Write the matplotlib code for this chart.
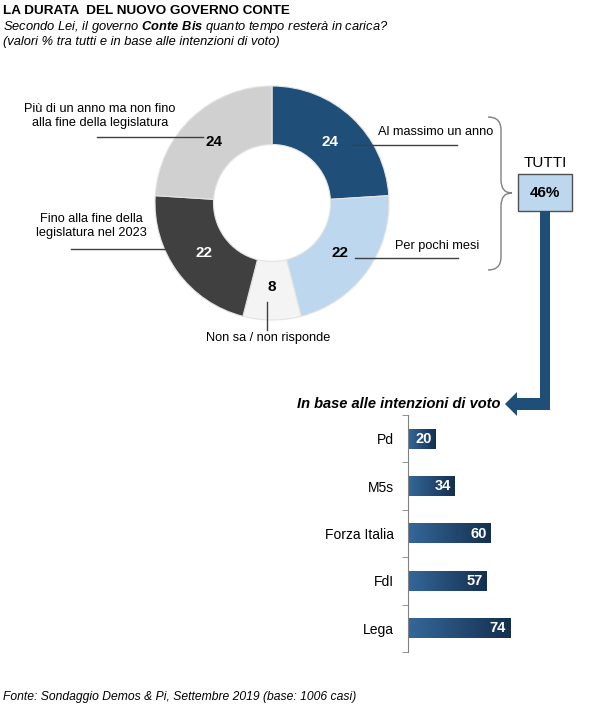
import matplotlib.pyplot as plt
import numpy as np
from matplotlib.path import Path
from matplotlib.patches import PathPatch, Polygon, Rectangle
from matplotlib.colors import LinearSegmentedColormap

plt.rcParams['font.family'] = ['Liberation Sans', 'DejaVu Sans']
plt.rcParams['mathtext.fontset'] = 'custom'
plt.rcParams['mathtext.bf'] = 'Liberation Sans:italic:bold'
plt.rcParams['mathtext.rm'] = 'Liberation Sans:italic'

# donut data (clockwise from top)
risposte = ["Al massimo un anno", "Per pochi mesi", "Non sa / non risponde",
            "Fino alla fine della\nlegislatura nel 2023",
            "Più di un anno ma non fino\nalla fine della legislatura"]
valori = [24, 22, 8, 22, 24]
colori = ["#1F4E79", "#BDD7EE", "#F4F4F4", "#404040", "#D0D0D0"]
col_testo = ["white", "black", "black", "white", "black"]
tutti = 46

# bar data
partiti = ["Pd", "M5s", "Forza Italia", "FdI", "Lega"]
perc = [20, 34, 60, 57, 74]

W, H = 600, 710
fig = plt.figure(figsize=(W / 100, H / 100), dpi=100)
fig.patch.set_facecolor("white")


def box(l, t, r, b):
    return [l / W, 1 - b / H, (r - l) / W, (b - t) / H]


# --- donut
ax = fig.add_axes(box(155, 86, 389, 320))
wedges, _ = ax.pie(valori, colors=colori, startangle=90, counterclock=False,
                   radius=1, wedgeprops=dict(width=0.5, edgecolor="#E4E4E4", linewidth=0.8))
ax.set_xlim(-1, 1)
ax.set_ylim(-1, 1)
ax.set_aspect("equal")

# --- bars
bx = fig.add_axes(box(408, 415, 570, 652))
y = np.arange(len(partiti))
bars = bx.barh(y, perc, height=0.42, color="none")
cmap = LinearSegmentedColormap.from_list("g", ["#35679A", "#14304F"])
grad = np.linspace(0, 1, 100).reshape(1, -1)
for b, v in zip(bars, perc):
    x0, y0 = b.get_x(), b.get_y()
    bx.imshow(grad, cmap=cmap, aspect="auto", extent=(x0, x0 + v, y0 + b.get_height(), y0), zorder=2)
    bx.text(v - 3, b.get_y() + b.get_height() / 2, str(v), color="white", fontsize=10.5,
            fontweight="bold", ha="right", va="center", zorder=3)
bx.set_xlim(0, 162 / 1.38)
bx.set_ylim(len(partiti) - 0.5, -0.5)
bx.set_yticks(y)
bx.set_yticklabels(partiti, fontsize=10)
bx.tick_params(axis="y", which="major", length=0, pad=10)
bx.set_yticks(np.arange(-0.5, len(partiti)), minor=True)
bx.tick_params(axis="y", which="minor", length=4, color="#808080")
bx.set_xticks([])
for s in ["top", "right", "bottom"]:
    bx.spines[s].set_visible(False)
bx.spines["left"].set_color("#808080")
bx.patch.set_alpha(0)

# --- overlay for texts and shapes
ov = fig.add_axes([0, 0, 1, 1])
ov.set_xlim(0, W)
ov.set_ylim(H, 0)
ov.axis("off")
ov.patch.set_alpha(0)

ov.text(3, 11, "LA DURATA  DEL NUOVO GOVERNO CONTE", fontsize=9.7, fontweight="bold", va="center")
ov.text(3, 27, "Secondo Lei, il governo $\\bf{Conte\\ Bis}$ quanto tempo resterà in carica?",
        fontsize=9.3, style="italic", va="center")
ov.text(3, 42, "(valori % tra tutti e in base alle intenzioni di voto)", fontsize=9.3,
        style="italic", va="center")

# value labels on donut (positions from wedge angles)
r_lab = 0.72
for w, v, c in zip(wedges, valori, col_testo):
    ang = np.deg2rad((w.theta1 + w.theta2) / 2)
    ax.text(r_lab * np.cos(ang), r_lab * np.sin(ang), str(v), color=c, fontsize=11,
            fontweight="bold", ha="center", va="center")

lc = "#404040"
fs = 9.2
ov.plot([353, 457], [145, 145], color=lc, lw=1)
ov.text(378, 132, risposte[0], fontsize=fs, va="center")
ov.plot([355, 458], [258, 258], color=lc, lw=1)
ov.text(395, 246, risposte[1], fontsize=fs, va="center")
ov.plot([267, 267], [302, 330], color=lc, lw=1)
ov.text(268, 338, risposte[2], fontsize=fs, ha="center", va="center")
ov.plot([71, 177], [249, 249], color=lc, lw=1)
ov.text(91, 226, risposte[3], fontsize=fs, ha="center", va="center", linespacing=1.2)
ov.plot([97, 203], [137, 137], color=lc, lw=1)
ov.text(100, 116, risposte[4], fontsize=fs, ha="center", va="center", linespacing=1.2)

# brace
bv = [(488, 117), (501, 117), (501, 130), (501, 180), (501, 193), (512, 193),
      (501, 193), (501, 206), (501, 257), (501, 270), (488, 270)]
bc = [Path.MOVETO, Path.CURVE3, Path.CURVE3, Path.LINETO, Path.CURVE3, Path.CURVE3,
      Path.CURVE3, Path.CURVE3, Path.LINETO, Path.CURVE3, Path.CURVE3]
ov.add_patch(PathPatch(Path(bv, bc), fill=False, edgecolor="#808080", lw=1))

ov.text(545, 163, "TUTTI", fontsize=11, ha="center", va="center")
ov.add_patch(Rectangle((518, 174), 54, 37, facecolor="#BDD7EE", edgecolor="#505050", lw=1))
ov.text(545, 193, f"{tutti}%", fontsize=11, fontweight="bold", ha="center", va="center")

ov.add_patch(Polygon([(540, 211), (550, 211), (550, 410), (517, 410), (517, 416),
                      (505, 404), (517, 392), (517, 398), (540, 398)],
                     closed=True, facecolor="#1F4E79", edgecolor="none"))
ov.text(500, 404, "In base alle intenzioni di voto", fontsize=10.5, fontweight="bold",
        style="italic", ha="right", va="center")

ov.text(3, 697, "Fonte: Sondaggio Demos & Pi, Settembre 2019 (base: 1006 casi)",
        fontsize=8.7, style="italic", va="center")

fig.savefig("out.png", dpi=100)
